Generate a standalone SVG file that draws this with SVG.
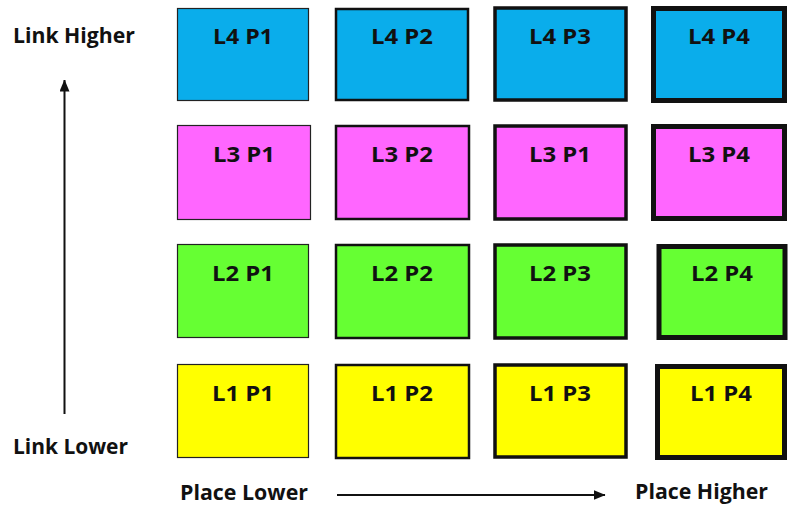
<svg xmlns="http://www.w3.org/2000/svg" width="789" height="512" viewBox="0 0 789 512">
<defs>
<style>
.lbl{font-family:"Open Sans","Liberation Sans",sans-serif;font-weight:bold;font-size:22px;fill:#111;}
.bt{font-family:"Open Sans","Liberation Sans",sans-serif;font-weight:bold;font-size:22px;fill:#111;text-anchor:middle;}
.c1{stroke:#222;stroke-width:1.2;}
.c2{stroke:#111;stroke-width:2.5;}
.c3{stroke:#111;stroke-width:3.5;}
.c4{stroke:#111;stroke-width:5;}
.l4{fill:#0AADEB;} .l3{fill:#FF66FF;} .l2{fill:#66FF33;} .l1{fill:#FFFF00;}
.ax{stroke:#111;stroke-width:2;fill:none;}
</style>
<marker id="ah" viewBox="0 0 12 10" refX="11.5" refY="5" markerWidth="12" markerHeight="10" markerUnits="userSpaceOnUse" orient="auto">
<path d="M0,0 L12,5 L0,10 z" fill="#111"/>
</marker>
</defs>
<rect width="789" height="512" fill="#fff"/>
<g id="axes">
<text class="lbl" x="13" y="43" textLength="122" lengthAdjust="spacingAndGlyphs">Link Higher</text>
<text class="lbl" x="13" y="454" textLength="115" lengthAdjust="spacingAndGlyphs">Link Lower</text>
<text class="lbl" x="180" y="500" textLength="128" lengthAdjust="spacingAndGlyphs">Place Lower</text>
<text class="lbl" x="635" y="499" textLength="133" lengthAdjust="spacingAndGlyphs">Place Higher</text>
</g>
<g id="connectors">
<line class="ax" x1="64.5" y1="414" x2="64.5" y2="80" marker-end="url(#ah)"/>
<line class="ax" x1="337" y1="495" x2="605" y2="495" marker-end="url(#ah)"/>
</g>
<g id="L4P1"><rect class="l4 c1" x="177.5" y="8.5" width="131" height="92"/><text class="bt" x="243" y="44" textLength="60" lengthAdjust="spacingAndGlyphs">L4 P1</text></g>
<g id="L4P2"><rect class="l4 c2" x="336" y="9" width="132" height="91"/><text class="bt" x="402" y="44" textLength="62" lengthAdjust="spacingAndGlyphs">L4 P2</text></g>
<g id="L4P3"><rect class="l4 c3" x="495" y="8" width="131" height="92"/><text class="bt" x="560" y="44" textLength="62" lengthAdjust="spacingAndGlyphs">L4 P3</text></g>
<g id="L4P4"><rect class="l4 c4" x="653.5" y="8.5" width="131" height="92"/><text class="bt" x="719" y="44" textLength="62" lengthAdjust="spacingAndGlyphs">L4 P4</text></g>
<g id="L3P1"><rect class="l3 c1" x="177.5" y="125.5" width="133" height="94"/><text class="bt" x="244" y="162" textLength="62" lengthAdjust="spacingAndGlyphs">L3 P1</text></g>
<g id="L3P2"><rect class="l3 c2" x="336" y="126" width="133" height="93"/><text class="bt" x="402" y="162" textLength="62" lengthAdjust="spacingAndGlyphs">L3 P2</text></g>
<g id="L3P1b"><rect class="l3 c3" x="495" y="126" width="131" height="93"/><text class="bt" x="560" y="162" textLength="62" lengthAdjust="spacingAndGlyphs">L3 P1</text></g>
<g id="L3P4"><rect class="l3 c4" x="653.5" y="126.5" width="131" height="92"/><text class="bt" x="719" y="162" textLength="62" lengthAdjust="spacingAndGlyphs">L3 P4</text></g>
<g id="L2P1"><rect class="l2 c1" x="177.5" y="244.5" width="131" height="93"/><text class="bt" x="243" y="281" textLength="62" lengthAdjust="spacingAndGlyphs">L2 P1</text></g>
<g id="L2P2"><rect class="l2 c2" x="336" y="245" width="133" height="93"/><text class="bt" x="402" y="281" textLength="62" lengthAdjust="spacingAndGlyphs">L2 P2</text></g>
<g id="L2P3"><rect class="l2 c3" x="495" y="245" width="131" height="93"/><text class="bt" x="560" y="281" textLength="62" lengthAdjust="spacingAndGlyphs">L2 P3</text></g>
<g id="L2P4"><rect class="l2 c4" x="659" y="246.5" width="126" height="91"/><text class="bt" x="722" y="281" textLength="62" lengthAdjust="spacingAndGlyphs">L2 P4</text></g>
<g id="L1P1"><rect class="l1 c1" x="177.5" y="364.5" width="131" height="93"/><text class="bt" x="243" y="401" textLength="62" lengthAdjust="spacingAndGlyphs">L1 P1</text></g>
<g id="L1P2"><rect class="l1 c2" x="336" y="365" width="133" height="93"/><text class="bt" x="402" y="401" textLength="62" lengthAdjust="spacingAndGlyphs">L1 P2</text></g>
<g id="L1P3"><rect class="l1 c3" x="495" y="365" width="131" height="92"/><text class="bt" x="560" y="401" textLength="62" lengthAdjust="spacingAndGlyphs">L1 P3</text></g>
<g id="L1P4"><rect class="l1 c4" x="657.5" y="366.5" width="127" height="91"/><text class="bt" x="721" y="401" textLength="62" lengthAdjust="spacingAndGlyphs">L1 P4</text></g>
</svg>
